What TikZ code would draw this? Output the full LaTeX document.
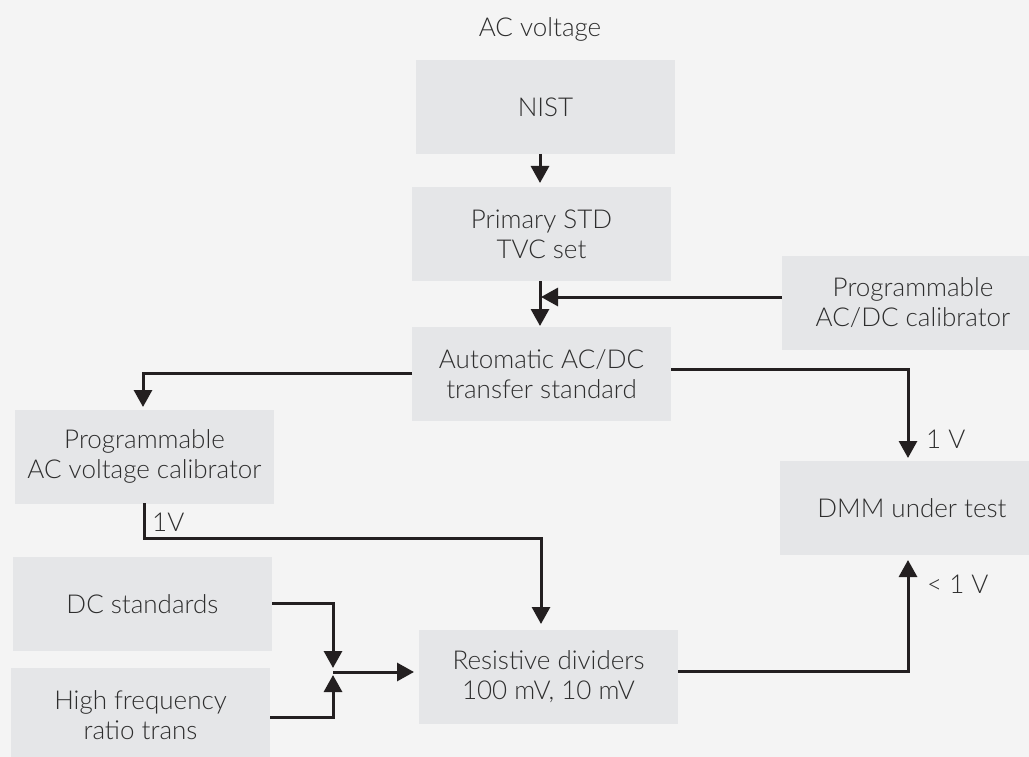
\documentclass[tikz,border=0pt]{standalone}
\usepackage{fontspec}
\setmainfont{Lato}[UprightFont=* Light]
\usetikzlibrary{arrows.meta}
\definecolor{bggray}{HTML}{F4F4F4}
\definecolor{boxgray}{HTML}{E5E6E8}
\definecolor{txtgray}{HTML}{2E2E2E}
\definecolor{linecol}{HTML}{231F20}
\tikzset{
  blk/.style={fill=boxgray, minimum width=259pt, minimum height=94pt, align=center, inner sep=0pt, text=txtgray, font=\fontsize{26}{30}\selectfont},
  arr/.style={draw=linecol, line width=3pt, -{Triangle[width=18pt,length=17pt]}},
  lbl/.style={text=txtgray, font=\fontsize{26}{30}\selectfont, inner sep=0pt, anchor=west}
}
\begin{document}
\begin{tikzpicture}[x=1pt,y=-1pt]
\useasboundingbox (0,0) rectangle (1029,757);
\fill[bggray] (0,0) rectangle (1029,757);
\node[text=txtgray, font=\fontsize{26}{30}\selectfont] (title) at (540,29) {AC voltage};
\node[blk] (nist) at (545.5,107) {NIST};
\node[blk] (prim) at (541.5,234) {Primary STD\\TVC set};
\node[blk, minimum width=262pt] (cal) at (913,302.5) {Programmable\\AC/DC calibrator};
\node[blk] (auto) at (541.5,374) {Automatic AC/DC\\transfer standard};
\node[blk] (pacv) at (144.5,456.5) {Programmable\\AC voltage calibrator};
\node[blk, minimum width=264pt] (dmm) at (912,508) {DMM under test};
\node[blk] (dcs) at (142.5,604) {DC standards};
\node[blk] (hf) at (140.5,715) {High frequency\\ratio trans};
\node[blk] (res) at (548.5,676.5) {Resistive dividers\\100 mV, 10 mV};
% connectors
\coordinate (c1) at (540,154);
\draw[arr] (c1) -- (540,183);
\coordinate (c2) at (540,281);
\draw[arr] (c2) -- (540,326);
\coordinate (calw) at (782,297);
\draw[arr] (calw) -- (541,297);
\coordinate (autow) at (412,373);
\coordinate (k1) at (143,373);
\draw[arr] (autow) -- (k1) -- (143,407);
\coordinate (autoe) at (671,369);
\coordinate (k2) at (908,369);
\draw[arr] (autoe) -- (k2) -- (908,458);
\coordinate (pacs) at (144,503);
\coordinate (k3) at (144,538);
\coordinate (k4) at (541,538);
\draw[arr] (pacs) -- (k3) -- (k4) -- (541,624);
\coordinate (dcse) at (272,603);
\coordinate (k5) at (333,603);
\draw[arr] (dcse) -- (k5) -- (333,668);
\coordinate (hfe) at (270,717);
\coordinate (k6) at (333,717);
\draw[arr] (hfe) -- (k6) -- (333,675);
\coordinate (j) at (333,672);
\draw[arr] (j) -- (414,672);
\coordinate (rese) at (678,671);
\coordinate (k7) at (908,671);
\draw[arr] (rese) -- (k7) -- (908,560);
% labels
\node[lbl] (l1) at (926,439) {1 V};
\node[lbl] (l2) at (927,584) {< 1 V};
\node[lbl] (l3) at (152,522) {1V};
\end{tikzpicture}
\end{document}
